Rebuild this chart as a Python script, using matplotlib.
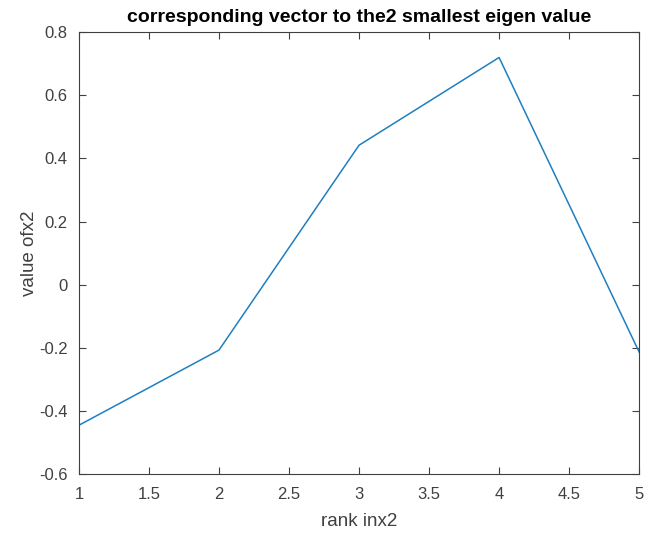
import numpy as np
import matplotlib.pyplot as plt

# datos
rank = [1, 2, 3, 4, 5]
valores = [-0.445, -0.207, 0.442, 0.720, -0.213]

plt.rcParams['font.family'] = ['Liberation Sans', 'DejaVu Sans']

fig = plt.figure(figsize=(6.63, 5.37), dpi=100)
ax = fig.add_axes([0.119, 0.117, 0.845, 0.823])

ax.plot(rank, valores, color='#1f7fc0', lw=1.1)

ax.set_xlim(1, 5)
ax.set_ylim(-0.6, 0.8)
ax.set_xticks(np.arange(1, 5.01, 0.5))
ax.set_xticklabels(['1', '1.5', '2', '2.5', '3', '3.5', '4', '4.5', '5'])
ax.set_yticks(np.arange(-0.6, 0.81, 0.2))
ax.set_yticklabels(['-0.6', '-0.4', '-0.2', '0', '0.2', '0.4', '0.6', '0.8'])

ax.tick_params(direction='in', top=True, right=True, length=5, width=0.8,
               colors='#404040', labelsize=12)
ax.tick_params(axis='x', pad=9)
ax.tick_params(axis='y', pad=8)
for s in ax.spines.values():
    s.set_color('#404040')
    s.set_linewidth(0.8)

ax.set_xlabel('rank inx2', fontsize=13.5, color='#404040', labelpad=8)
ax.set_ylabel('value ofx2', fontsize=13.5, color='#404040', labelpad=1)
ax.set_title('corresponding vector to the2 smallest eigen value',
             fontsize=14, fontweight='bold', pad=7)

plt.savefig('out.png')
